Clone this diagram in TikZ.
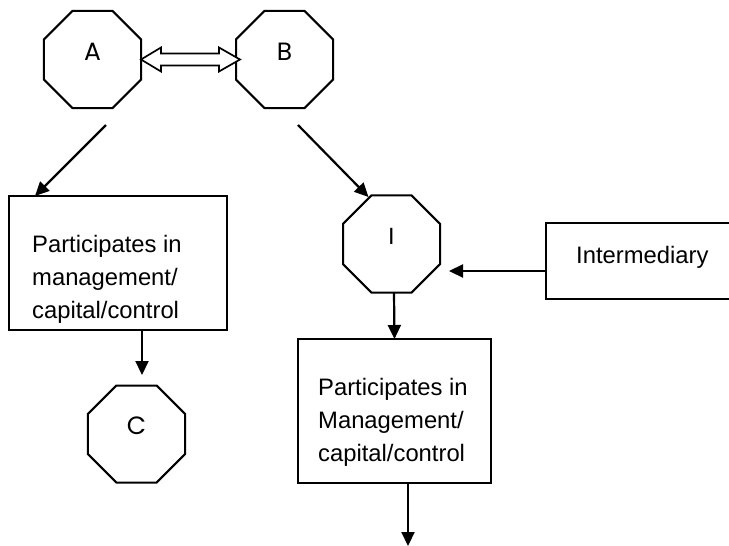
\documentclass[tikz,border=0pt]{standalone}
\usepackage{fontspec}
\setmainfont{Liberation Sans}
\newfontfamily\geofont{Poppins}
\usetikzlibrary{shapes.geometric,arrows.meta,calc}
\begin{document}
\begin{tikzpicture}[x=1pt,y=-1pt,
  oct/.style={draw, regular polygon, regular polygon sides=8, minimum size=105pt,
    inner sep=0pt, outer sep=0pt, line width=2pt, text depth=16pt,
    font=\geofont\fontsize{25}{30}\selectfont},
  boxnode/.style={draw, rectangle, line width=2pt, inner sep=0pt, outer sep=0pt},
  arr/.style={line width=2.2pt, -{Triangle[length=14pt,width=13pt]}},
  txt/.style={inner sep=0pt, anchor=base west, font=\fontsize{23.8}{33}\selectfont}]
\useasboundingbox (0,0) rectangle (729,546);

% octagons
\node[oct] (A) at (92.5,59.5) {A};
\node[oct] (B) at (284.5,59.5) {B};
\node[oct, font=\fontsize{23.5}{30}\selectfont] (I) at (391.5,244) {I};
\node[oct] (C) at (136.5,434) {C};

% boxes
\node[boxnode, minimum width=218pt, minimum height=134pt] (P1) at (118,263) {};
\node[boxnode, minimum width=193pt, minimum height=144pt] (P2) at (394.5,411) {};
\node[inner sep=0pt, outer sep=0pt, minimum width=183pt, minimum height=76pt, anchor=west] (M) at (546,261) {};
\draw[line width=2pt] (M.north east) -- (M.north west) -- (M.south west) -- (M.south east);

% texts
\node[txt] (t1) at (32,252) {\vtop{\hbox{Participates in}\hbox{management/}\hbox{capital/control}}};
\node[txt] (t2) at (318,395) {\vtop{\hbox{Participates in}\hbox{Management/}\hbox{capital/control}}};
\node[txt] (t3) at (576,263) {Intermediary};

% double arrow A <-> B
\draw[line width=1.7pt, fill=white] (A.east) -- ++(20,-12) -- ++(0,6)
  -- ($(B.west)+(-17,-6)$) -- ++(0,-6) -- ($(B.west)+(4,0)$) -- ++(-21,12) -- ++(0,-6)
  -- ($(A.east)+(20,6)$) -- ++(0,6) -- cycle;

% connectors
\coordinate (endpt) at (408,546);
\draw[arr] ($(A.center)+(13.5,65.5)$) -- ($(P1.north west)+(26,0)$);
\draw[arr] ($(B.center)+(13.5,65.5)$) -- ($(I.center)+(-23,-47)$);
\draw[arr] ($(M.west)+(0,10)$) -- ($(I.center)+(57.5,27)$);
\draw[arr] ($(I.center)+(2.5,48.5)$) -- ($(P2.north)+(0,0)$);
\draw[arr] ($(P1.south)+(24,0)$) -- ($(C.center)+(5.5,-59)$);
\draw[arr] ($(P2.south)+(13.5,0)$) -- (endpt);
\end{tikzpicture}
\end{document}
